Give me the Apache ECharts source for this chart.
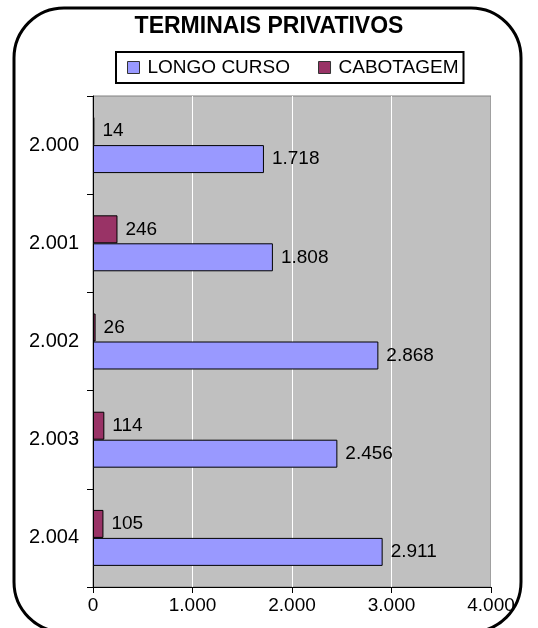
<!DOCTYPE html>
<html>
<head>
<meta charset="utf-8">
<script src="https://cdn.jsdelivr.net/npm/echarts@6/dist/echarts.min.js"></script>
<style>
  html, body { margin: 0; padding: 0; background: #fff; }
  #chart { width: 538px; height: 628px; }
</style>
</head>
<body>
<div id="chart"></div>
<script>
const years = ['2.000', '2.001', '2.002', '2.003', '2.004']
const longoCurso = [1718, 1808, 2868, 2456, 2911]
const cabotagem = [14, 246, 26, 114, 105]

const font = 'Liberation Sans, Arial, sans-serif'
const fmt = (v) => String(v).replace(/\B(?=(\d{3})+(?!\d))/g, '.')

const chart = echarts.init(document.getElementById('chart'))

const barLabel = {
  show: true,
  position: 'right',
  distance: 8,
  color: '#000',
  fontSize: 19,
  fontFamily: font,
  formatter: (p) => fmt(p.value),
}

chart.setOption({
  animation: false,
  title: {
    text: 'TERMINAIS PRIVATIVOS',
    left: 'center',
    top: 10,
    textStyle: { fontSize: 23, fontWeight: 'bold', color: '#000', fontFamily: font },
  },
  legend: {
    data: ['LONGO CURSO', 'CABOTAGEM'],
    top: 52,
    left: 116,
    padding: [6, 5, 6, 11],
    borderColor: '#000',
    borderWidth: 2,
    itemWidth: 12,
    itemHeight: 12,
    itemGap: 28,
    icon: 'rect',
    itemStyle: { borderColor: '#333', borderWidth: 1 },
    textStyle: { fontSize: 19, color: '#000', fontFamily: font, padding: [0, 0, 0, 3] },
  },
  graphic: [
    {
      // rounded chart frame, bottom edge runs just past the picture
      type: 'rect',
      shape: { x: 14, y: 8, width: 507, height: 624, r: 50 },
      style: { fill: 'none', stroke: '#000', lineWidth: 3 },
      z: 100,
    },
  ],
  grid: {
    left: 93,
    right: 47,
    top: 96,
    bottom: 41,
    show: true,
    backgroundColor: '#C0C0C0',
    borderColor: '#808080',
    borderWidth: 1,
  },
  xAxis: {
    type: 'value',
    min: 0,
    max: 4000,
    interval: 1000,
    axisLine: { show: true, lineStyle: { color: '#000', width: 1 } },
    axisTick: { show: true, length: 6, lineStyle: { color: '#000' } },
    axisLabel: {
      color: '#000',
      fontSize: 19,
      fontFamily: font,
      margin: 9,
      formatter: (v) => fmt(v),
    },
    splitLine: { show: true, lineStyle: { color: '#fff', width: 1 } },
  },
  yAxis: {
    type: 'category',
    data: years,
    inverse: true,
    axisLine: { show: true, lineStyle: { color: '#000', width: 1 } },
    axisTick: { show: true, length: 6, lineStyle: { color: '#000' } },
    axisLabel: { color: '#000', fontSize: 20, fontFamily: font, margin: 14 },
  },
  series: [
    {
      name: 'CABOTAGEM',
      type: 'bar',
      data: cabotagem,
      barGap: '0%',
      barCategoryGap: '43%',
      itemStyle: { color: '#993366', borderColor: '#000', borderWidth: 1 },
      label: barLabel,
    },
    {
      name: 'LONGO CURSO',
      type: 'bar',
      data: longoCurso,
      barGap: '0%',
      barCategoryGap: '43%',
      itemStyle: { color: '#9999FF', borderColor: '#000', borderWidth: 1 },
      label: barLabel,
    },
  ],
})
</script>
</body>
</html>
